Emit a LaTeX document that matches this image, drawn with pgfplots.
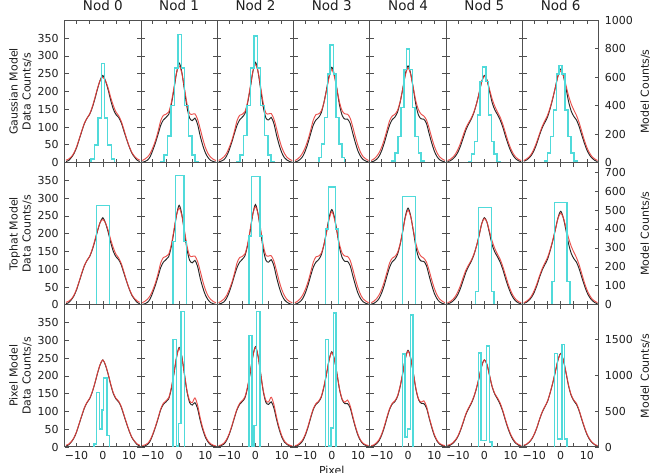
\documentclass[border=0pt]{standalone}
\usepackage{fontspec}
\setmainfont{DejaVu Sans}
\usepackage{pgfplots}
\usepackage{pgfplotstable}
\pgfplotsset{compat=1.18}
\definecolor{cyl}{RGB}{80,218,218}
\definecolor{rdl}{RGB}{232,64,60}
\definecolor{bkl}{RGB}{40,40,40}
\definecolor{axc}{RGB}{80,80,80}
\definecolor{txc}{RGB}{30,30,30}

% profiles: b = data (black), r = model rows 1-2 (red), p = model row 3 (red)
\pgfplotstableread{
x b0 b1 b2 b3 b4 b5 b6 r0 r1 r2 r3 r4 r5 r6 p0 p1 p2 p3 p4 p5 p6
-14 3 1 2 2 2 3 4 7 6 6 6 6 6 6 5 4 4 4 4 5 5
-13 6 3 4 4 4 5 7 10 10 10 10 10 9 10 8 6 6 6 6 7 8
-12 14 7 8 9 9 10 13 16 16 16 17 17 15 16 15 10 11 12 12 12 14
-11 25 17 18 18 18 18 22 27 26 26 28 28 24 26 26 20 21 21 21 20 23
-10 42 35 35 34 34 30 36 44 42 42 44 44 38 41 43 37 37 37 37 32 37
-9 65 56 57 56 56 48 55 66 62 62 65 66 56 60 66 58 59 59 59 50 56
-8 88 80 82 82 82 70 78 90 88 88 92 92 78 82 89 82 84 85 85 72 79
-7 110 105 105 106 106 92 98 111 118 118 120 118 98 102 111 107 107 108 108 94 99
-6 125 120 120 120 121 108 113 125 133 133 135 131 112 118 126 123 123 122 123 110 114
-5 136 127 128 127 128 122 128 137 136 136 137 136 125 133 137 130 131 129 130 124 129
-4 155 135 138 140 142 140 152 157 142 143 145 147 142 155 156 138 141 142 144 142 153
-3 180 163 167 168 170 165 180 183 168 170 168 172 165 182 181 166 170 170 172 166 181
-2 208 205 208 205 208 195 212 210 210 212 203 208 195 212 209 207 210 206 209 196 213
-1 232 252 255 245 250 228 245 232 252 255 240 247 228 243 233 252 255 245 250 228 245
0 245 280 282 268 272 245 263 240 272 276 262 266 243 258 245 278 280 266 270 245 262
1 230 255 255 247 250 232 245 230 252 255 242 248 232 245 231 254 255 247 250 232 245
2 205 205 205 205 208 200 210 210 210 212 205 210 205 218 206 206 206 206 209 201 211
3 175 155 155 160 162 168 172 183 165 166 168 172 178 188 177 158 158 162 164 170 174
4 150 125 125 132 133 148 145 160 138 139 145 148 158 165 152 130 130 134 135 150 147
5 135 118 120 122 123 135 130 142 136 137 137 136 142 148 137 125 127 126 126 138 132
6 127 125 127 122 122 120 120 132 137 138 136 131 128 133 129 138 140 132 130 124 123
7 112 108 110 110 110 100 102 116 122 123 125 120 108 113 114 118 120 116 115 103 104
8 89 75 78 82 82 75 78 93 95 96 100 97 84 88 91 82 85 86 85 78 80
9 66 48 50 55 55 52 55 68 66 67 72 70 60 63 68 53 55 58 58 55 57
10 45 27 28 32 32 33 35 46 42 43 47 46 40 42 46 31 32 35 35 36 37
11 27 14 14 17 17 19 21 29 25 26 28 28 25 27 28 17 17 19 19 22 23
12 16 6 7 8 8 10 12 18 15 15 16 16 15 16 17 9 9 10 10 12 13
13 7 3 3 4 4 5 6 11 9 9 10 10 9 10 9 5 5 6 6 7 7
14 3 1 1 2 2 3 3 7 6 6 6 6 6 6 5 3 3 4 4 4 4
}\prof

\pgfplotsset{
  base/.style={scale only axis, width=76.3pt, height=142.2pt, anchor=south west,
    xmin=-14.5, xmax=14.5, ymin=0, ymax=400,
    xtick={-10,-5,0,5,10}, ytick={0,50,...,350}, xticklabels={}, yticklabels={},
    tick align=inside, xtick pos=both, ytick pos=both, major tick length=4pt,
    axis line style={axc, line width=1pt}, every tick/.style={axc, line width=0.7pt},
    tick label style={font=\fontsize{11}{13}\selectfont, text=txc},
    yticklabel style={xshift=-2.5pt}, xticklabel style={yshift=-1pt},
    title style={font=\fontsize{13.5}{16}\selectfont, text=txc},
    every axis y label/.style={at={(axis description cs:-0.58,0.5)}, rotate=90, anchor=center,
      align=center, font=\fontsize{11}{13}\selectfont, text=txc},
    every axis x label/.style={at={(axis description cs:0.5,-0.134)}, anchor=north, inner sep=0pt,
      font=\fontsize{11}{13}\selectfont, text=txc},
  },
  ylabs/.style={yticklabels={0,50,100,150,200,250,300,350}},
  xlabs/.style={xticklabels={−10,,0,,10}},
  lastc/.style={ytick pos=left},
  twin/.style={scale only axis, width=76.3pt, height=142.2pt, anchor=south west,
    xmin=-14.5, xmax=14.5, ymin=0, axis x line=none, axis y line*=right,
    tick align=inside, major tick length=4pt,
    /pgf/number format/1000 sep={}, /pgf/number format/assume math mode=true,
    axis line style={axc, line width=1pt}, every tick/.style={axc, line width=0.7pt},
    tick label style={font=\fontsize{11}{13}\selectfont, text=txc},
    yticklabel style={xshift=2.5pt},
    ylabel={Model Counts/s},
    every axis y label/.style={at={(axis description cs:1.607,0.5)}, rotate=90, anchor=center,
      font=\fontsize{11}{13}\selectfont, text=txc},
  },
  bkp/.style={bkl, line width=0.95pt, smooth, tension=0.5},
  rdp/.style={rdl, line width=0.95pt, smooth, tension=0.5, opacity=0.9},
  cyp/.style={cyl, line width=1.5pt, const plot},
}

% #1 x, #2 y, #3 options, #4 column index, #5 red prefix, #6 cyan scale, #7 cyan coordinates
\newcommand\panel[7]{%
  \begin{axis}[base, at={(#1pt,#2pt)}, #3]
    \addplot[bkp] table[x=x, y=b#4] {\prof};
    \addplot[rdp] table[x=x, y=#5#4] {\prof};
    \addplot[cyp, y filter/.expression={y*#6}] coordinates {#7};
  \end{axis}}

\begin{document}
\begin{tikzpicture}
\useasboundingbox (0,0) rectangle (655pt,473pt);

% ---------------- Row 1: Gaussian model (model axis 0-1000) ----------------
\panel{64.7}{310.4}{ylabs, title={Nod 0}, ylabel={Gaussian Model\\Data Counts/s}}{0}{r}{0.4}
 {(-4.5,0) (-4.5,25) (-3.2,124) (-1.8,313) (-0.6,696) (0.6,313) (1.8,124) (3.2,25) (4.5,0)}
\panel{141.0}{310.4}{title={Nod 1}}{1}{r}{0.4}
 {(-6.9,0) (-6.9,8) (-5.7,54) (-4.4,188) (-3.1,402) (-1.7,666) (-0.4,901) (0.8,666) (2.1,402) (3.5,188) (4.8,54) (6.1,8) (7.3,0)}
\panel{217.3}{310.4}{title={Nod 2}}{2}{r}{0.4}
 {(-7.0,0) (-7.0,8) (-5.8,55) (-4.5,190) (-3.2,400) (-1.8,666) (-0.5,890) (0.7,666) (2.0,400) (3.4,190) (4.7,55) (6.0,8) (7.2,0)}
\panel{293.6}{310.4}{title={Nod 3}}{3}{r}{0.4}
 {(-4.9,0) (-4.9,35) (-3.9,129) (-2.75,318) (-1.6,624) (-0.6,826) (0.6,624) (1.6,318) (2.75,129) (3.9,35) (4.9,0)}
\panel{369.9}{310.4}{title={Nod 4}}{4}{r}{0.4}
 {(-6.2,0) (-6.2,10) (-5.0,66) (-3.9,184) (-2.7,388) (-1.6,654) (-0.6,800) (0.6,654) (1.6,388) (2.7,184) (3.9,66) (5.0,10) (6.2,0)}
\panel{446.2}{310.4}{title={Nod 5}}{5}{r}{0.4}
 {(-6.0,0) (-6.0,8) (-4.8,59) (-3.75,148) (-2.7,336) (-1.6,572) (-0.65,671) (0.65,572) (1.6,336) (2.7,148) (3.75,59) (4.8,8) (6.0,0)}
\panel{522.5}{310.4}{title={Nod 6}, lastc}{6}{r}{0.4}
 {(-6.2,0) (-6.2,10) (-5.0,66) (-3.9,184) (-2.7,371) (-1.6,624) (-0.6,682) (0.6,624) (1.6,371) (2.7,184) (3.9,66) (5.0,10) (6.2,0)}
\begin{axis}[twin, at={(522.5pt,310.4pt)}, ymax=1000, ytick={0,200,...,1000}]
\end{axis}

% ---------------- Row 2: Tophat model (model axis 0-750) ----------------
\panel{64.7}{168.2}{ylabs, ylabel={Tophat Model\\Data Counts/s}}{0}{r}{0.533333}
 {(-2.45,0) (-2.45,523) (2.5,0)}
\panel{141.0}{168.2}{}{1}{r}{0.533333}
 {(-2.4,0) (-2.4,333) (-1.35,681) (1.85,333) (2.8,0)}
\panel{217.3}{168.2}{}{2}{r}{0.533333}
 {(-2.5,0) (-2.5,363) (-1.5,676) (1.7,363) (2.7,0)}
\panel{293.6}{168.2}{}{3}{r}{0.533333}
 {(-2.4,0) (-2.4,401) (-1.3,620) (1.5,401) (2.6,0)}
\panel{369.9}{168.2}{}{4}{r}{0.533333}
 {(-2.2,0) (-2.2,571) (2.9,0)}
\panel{446.2}{168.2}{}{5}{r}{0.533333}
 {(-3.3,0) (-3.3,71) (-2.3,513) (2.7,71) (3.7,0)}
\panel{522.5}{168.2}{lastc}{6}{r}{0.533333}
 {(-3.2,0) (-3.2,123) (-2.3,539) (2.5,123) (3.6,0)}
\begin{axis}[twin, at={(522.5pt,168.2pt)}, ymax=750, ytick={0,100,...,700}]
\end{axis}

% ---------------- Row 3: Pixel model (model axis 0-1990) ----------------
\panel{64.7}{26.0}{ylabs, xlabs, ylabel={Pixel Model\\Data Counts/s}}{0}{p}{0.201005}
 {(-3.4,0) (-3.4,42) (-2.4,760) (-1.3,255) (-0.3,515) (0.3,963) (1.6,161) (2.6,0)}
\panel{141.0}{26.0}{xlabs}{1}{p}{0.201005}
 {(-2.3,0) (-2.3,1507) (-1.1,15) (-0.3,326) (0.7,1894) (2.0,0)}
\panel{217.3}{26.0}{xlabs}{2}{p}{0.201005}
 {(-2.5,0) (-2.5,1563) (-1.3,15) (-0.5,303) (0.4,1894) (1.7,0)}
\panel{293.6}{26.0}{xlabs, xlabel={Pixel}}{3}{p}{0.201005}
 {(-2.4,0) (-2.4,1507) (-1.3,15) (-0.2,265) (0.7,1875) (1.6,0)}
\panel{369.9}{26.0}{xlabs}{4}{p}{0.201005}
 {(-2.2,0) (-2.2,1303) (-1.2,137) (-0.2,255) (0.9,1847) (1.9,0)}
\panel{446.2}{26.0}{xlabs}{5}{p}{0.201005}
 {(-2.3,0) (-2.3,1317) (-1.2,90) (0.8,1412) (1.9,67) (2.9,0)}
\panel{522.5}{26.0}{xlabs, lastc}{6}{p}{0.201005}
 {(-2.3,0) (-2.3,1308) (-1.2,113) (0.5,1436) (1.5,113) (2.5,0)}
\begin{axis}[twin, at={(522.5pt,26.0pt)}, ymax=1990, ytick={0,500,1000,1500}]
\end{axis}

\end{tikzpicture}
\end{document}
